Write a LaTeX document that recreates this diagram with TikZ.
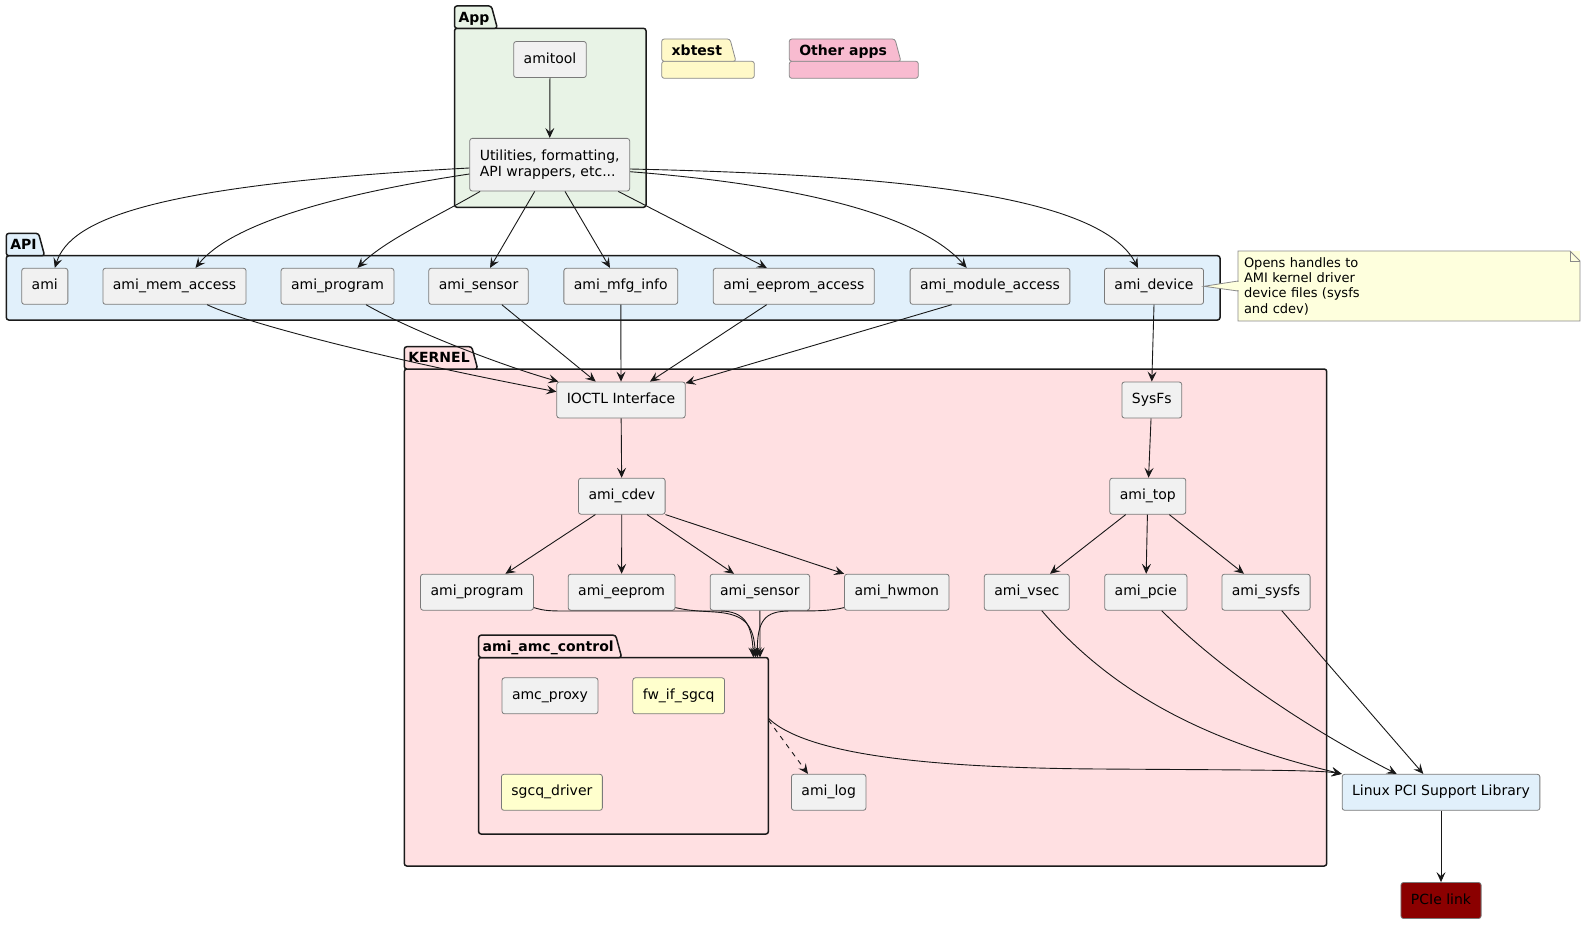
\documentclass[tikz,border=0pt]{standalone}
\usepackage{fontspec}
\setmainfont{DejaVu Sans}
\usetikzlibrary{arrows.meta, positioning}
\definecolor{compfill}{HTML}{F1F1F1}
\definecolor{compline}{HTML}{7A7A7A}
\definecolor{linecol}{HTML}{181818}
\definecolor{pkgline}{HTML}{1A1A1A}
\definecolor{smallline}{HTML}{8A8A8A}
\definecolor{appfill}{HTML}{E8F3E6}
\definecolor{apifill}{HTML}{E1F0FB}
\definecolor{kernfill}{HTML}{FFE0E2}
\definecolor{xbfill}{HTML}{FFF9C8}
\definecolor{othfill}{HTML}{F8BBD0}
\definecolor{notefill}{HTML}{FEFFDD}
\definecolor{notestroke}{HTML}{8A8A8A}
\definecolor{yelfill}{HTML}{FFFFCD}
\definecolor{pciefill}{HTML}{8B0000}

\pgfdeclarelayer{background}
\pgfsetlayers{background,main}

% package frame: #1 frame style, #2 title style, #3 name, #4 title,
% #5 fill, #6 body north west, #7 width, #8 height
\newcommand{\umlpkg}[8]{%
  \begin{pgfonlayer}{background}
    \node[#1, fill=#5, minimum width=#7, minimum height=#8, anchor=north west] (#3) at #6 {};
  \end{pgfonlayer}
  \node[#2, anchor=south west] (#3title) at (#3.north west) {#4};
  \begin{pgfonlayer}{background}
    \filldraw[#1, fill=#5] (#3.north west) -- (#3title.north west)
      -- ([xshift=-2pt]#3title.north east) -- ([xshift=4pt]#3title.south east) -- cycle;
  \end{pgfonlayer}
}

\begin{document}
\begin{tikzpicture}[
    x=1pt, y=-1pt,
    >={Stealth[length=10pt, width=9pt, inset=4pt]},
    pkgbody/.style={draw=pkgline, line width=1.5pt, rounded corners=2.5pt,
      inner sep=0pt, outer sep=0pt},
    pkgsmall/.style={pkgbody, draw=smallline, line width=0.8pt},
    pkgtitle/.style={font=\bfseries\fontsize{14}{16}\selectfont, text height=10.2pt,
      text depth=0pt, inner xsep=4pt, inner ysep=6.05pt, outer sep=0pt},
    pkgtitlewide/.style={pkgtitle, inner xsep=10pt},
    compbase/.style={draw=compline, fill=compfill, line width=0.8pt, rounded corners=2.5pt,
      font=\fontsize{14}{16.3}\selectfont, inner xsep=10pt, inner ysep=11.4pt,
      minimum height=36pt},
    comp/.style={compbase, text height=10.6pt, text depth=3.4pt, inner ysep=11pt},
    yelcomp/.style={comp, fill=yelfill},
    notebox/.style={fill=notefill, text width=330pt, align=left, inner xsep=6pt,
      inner ysep=5pt, minimum height=70pt, outer sep=0pt,
      font=\fontsize{13}{15.3}\selectfont},
    noteline/.style={draw=notestroke, line width=0.8pt},
    arr/.style={->, draw=linecol, line width=0.9pt},
    dasharr/.style={arr, dash pattern=on 5pt off 5pt},
  ]

  % Background
  \begin{pgfonlayer}{background}
    \fill[white] (0,0) rectangle (1593,931);
  \end{pgfonlayer}
  \useasboundingbox (0,0) rectangle (1593,931);

  % Packages
  \umlpkg{pkgbody}{pkgtitle}{app}{App}{appfill}{(454.5,28.3)}{191.5pt}{179pt}
  \umlpkg{pkgsmall}{pkgtitlewide}{xbtest}{xbtest}{xbfill}{(661.7,61.3)}{92.6pt}{17pt}
  \umlpkg{pkgsmall}{pkgtitlewide}{otherapps}{Other apps}{othfill}{(789.3,61.3)}{129pt}{17pt}
  \umlpkg{pkgbody}{pkgtitle}{api}{API}{apifill}{(6.3,255.7)}{1213.7pt}{64.3pt}
  \umlpkg{pkgbody}{pkgtitle}{kernel}{KERNEL}{kernfill}{(404.3,369)}{922.4pt}{497pt}
  \umlpkg{pkgbody}{pkgtitle}{amcctl}{ami\_amc\_control}{kernfill}{(478.6,657.5)}{289.8pt}{176.5pt}

  % App
  \node[comp] (amitool) at (550,59.5) {amitool};
  \node[compbase, align=left] (util) at (549.7,164.7) {Utilities, formatting,\\API wrappers, etc...};

  % API
  \node[comp] (ami) at (44.8,286.3) {ami};
  \node[comp] (memacc) at (174.5,286.3) {ami\_mem\_access};
  \node[comp] (aprog) at (337.5,286.3) {ami\_program};
  \node[comp] (asens) at (478.5,286.3) {ami\_sensor};
  \node[comp] (mfg) at (620.8,286.3) {ami\_mfg\_info};
  \node[comp] (eepacc) at (793.8,286.3) {ami\_eeprom\_access};
  \node[comp] (modacc) at (990,286.3) {ami\_module\_access};
  \node[comp] (dev) at (1154,286.3) {ami\_device};

  % Note
  \node[notebox, anchor=north west] (note) at (1238,251)
    {Opens handles to\\AMI kernel driver\\device files (sysfs\\and cdev)};
  \draw[noteline] (note.north west) -- ([xshift=-10pt]note.north east)
    -- ([yshift=-10pt]note.north east) -- (note.south east) -- (note.south west) -- cycle;
  \draw[noteline] ([xshift=-10pt]note.north east) |- ([yshift=-10pt]note.north east);
  \filldraw[noteline, fill=notefill] (dev.east) -- ([yshift=5pt]note.west)
    -- ([yshift=-5pt]note.west) -- cycle;
  \draw[notefill, line width=1.2pt] ([yshift=4.4pt]note.west) -- ([yshift=-4.4pt]note.west);

  % Kernel
  \node[comp] (ioctl) at (621,400) {IOCTL Interface};
  \node[comp] (sysfs) at (1151.8,400) {SysFs};
  \node[comp] (cdev) at (621.8,496.2) {ami\_cdev};
  \node[comp] (top) at (1147.8,496.2) {ami\_top};
  \node[comp] (kprog) at (477,592.2) {ami\_program};
  \node[comp] (keep) at (621.6,592.2) {ami\_eeprom};
  \node[comp] (ksens) at (759.9,592.2) {ami\_sensor};
  \node[comp] (hwmon) at (896.8,592.2) {ami\_hwmon};
  \node[comp] (vsec) at (1026.8,592.2) {ami\_vsec};
  \node[comp] (pcie) at (1145.8,592.2) {ami\_pcie};
  \node[comp] (ksysfs) at (1266,592.2) {ami\_sysfs};
  \node[comp] (proxy) at (550,695.8) {amc\_proxy};
  \node[yelcomp] (fwif) at (678.7,695.8) {fw\_if\_sgcq};
  \node[yelcomp] (sgcq) at (551.9,792.3) {sgcq\_driver};
  \node[comp] (amilog) at (828.7,792.3) {ami\_log};

  % PCI
  \node[comp, fill=apifill] (linuxpci) at (1441,792.3) {Linux PCI Support Library};
  \node[comp, fill=pciefill] (pcielink) at (1441,900.5) {PCIe link};

  % App edges
  \draw[arr] (amitool) -- (util);
  \draw[arr] ([yshift=-3.3pt]util.west) .. controls (150,185) and (70,220) .. ([xshift=10pt]ami.north);
  \draw[arr] ([yshift=-9.3pt]util.west) .. controls (330,195) and (230,225) .. ([xshift=21pt]memacc.north);
  \draw[arr] ([xshift=10.7pt]util.south west) .. controls (440,215) and (385,240) .. ([xshift=20pt]aprog.north);
  \draw[arr] ([xshift=-15pt]util.south) -- ([xshift=11.5pt]asens.north);
  \draw[arr] ([xshift=15.3pt]util.south) -- ([xshift=-10.8pt]mfg.north);
  \draw[arr] ([xshift=68.6pt]util.south) -- ([xshift=-27pt]eepacc.north);
  \draw[arr] ([yshift=-7pt]util.east) .. controls (800,185) and (920,215) .. ([xshift=-23.3pt]modacc.north);
  \draw[arr] ([yshift=-4.3pt]util.east) .. controls (900,175) and (1100,195) .. ([xshift=-16pt]dev.north);

  % API to kernel
  \draw[arr] ([xshift=32.6pt]memacc.south) .. controls (250,325) and (400,362) .. ([yshift=8.3pt]ioctl.west);
  \draw[arr] ([xshift=28.5pt]aprog.south) .. controls (410,330) and (500,365) .. ([xshift=2pt]ioctl.north west);
  \draw[arr] ([xshift=23.3pt]asens.south) -- ([xshift=-25.3pt]ioctl.north);
  \draw[arr] (mfg.south) -- (ioctl.north);
  \draw[arr] ([xshift=-27.1pt]eepacc.south) -- ([xshift=29pt]ioctl.north);
  \draw[arr] ([xshift=-38.3pt]modacc.south) -- ([yshift=-1.6pt]ioctl.north east);
  \draw[arr] (dev.south) -- (sysfs.north);

  % Kernel edges
  \draw[arr] (ioctl) -- (cdev);
  \draw[arr] ([xshift=-26.4pt]cdev.south) -- ([xshift=28.4pt]kprog.north);
  \draw[arr] (cdev) -- (keep);
  \draw[arr] ([xshift=25.2pt]cdev.south) -- ([xshift=-25.9pt]ksens.north);
  \draw[arr] (cdev.south east) -- (hwmon.north west);
  \draw[arr] (sysfs) -- (top);
  \draw[arr] ([xshift=-22.1pt]top.south) -- ([xshift=23.2pt]vsec.north);
  \draw[arr] (top) -- (pcie);
  \draw[arr] ([xshift=21.5pt]top.south) -- ([xshift=-22pt]ksysfs.north);

  % Into ami_amc_control
  \draw[arr] ([yshift=3pt]kprog.south east) .. controls (545,611) and (550,611) .. (570,611)
    -- (720,611) .. controls (745,611) and (752,625) .. ([xshift=-15pt]amcctl.north east);
  \draw[arr] ([yshift=3pt]keep.south east) .. controls (690,611) and (700,611) .. (715,612)
    .. controls (745,614) and (754,625) .. ([xshift=-13pt]amcctl.north east);
  \draw[arr] (ksens.south) -- ([xshift=-8.4pt]amcctl.north east);
  \draw[arr] ([yshift=3pt]hwmon.south west) .. controls (830,611) and (815,611) .. (790,611)
    .. controls (765,611) and (757,620) .. ([xshift=-11pt]amcctl.north east);

  % Out to log and PCI
  \draw[dasharr] ([yshift=-62.5pt]amcctl.north east) -- ([xshift=-20.7pt]amilog.north);
  \draw[arr] ([yshift=-60.8pt]amcctl.north east) .. controls (810,758) and (950,768) .. (1100,769)
    .. controls (1250,770) and (1320,770) .. (linuxpci.north west);
  \draw[arr] ([xshift=14.9pt]vsec.south) .. controls (1110,690) and (1200,740) .. (linuxpci.north west);
  \draw[arr] ([xshift=15.9pt]pcie.south) .. controls (1230,680) and (1330,740) .. ([xshift=-44.3pt]linuxpci.north);
  \draw[arr] ([xshift=15.7pt]ksysfs.south) -- ([xshift=-17.7pt]linuxpci.north);
  \draw[arr] (linuxpci) -- (pcielink);

\end{tikzpicture}
\end{document}
